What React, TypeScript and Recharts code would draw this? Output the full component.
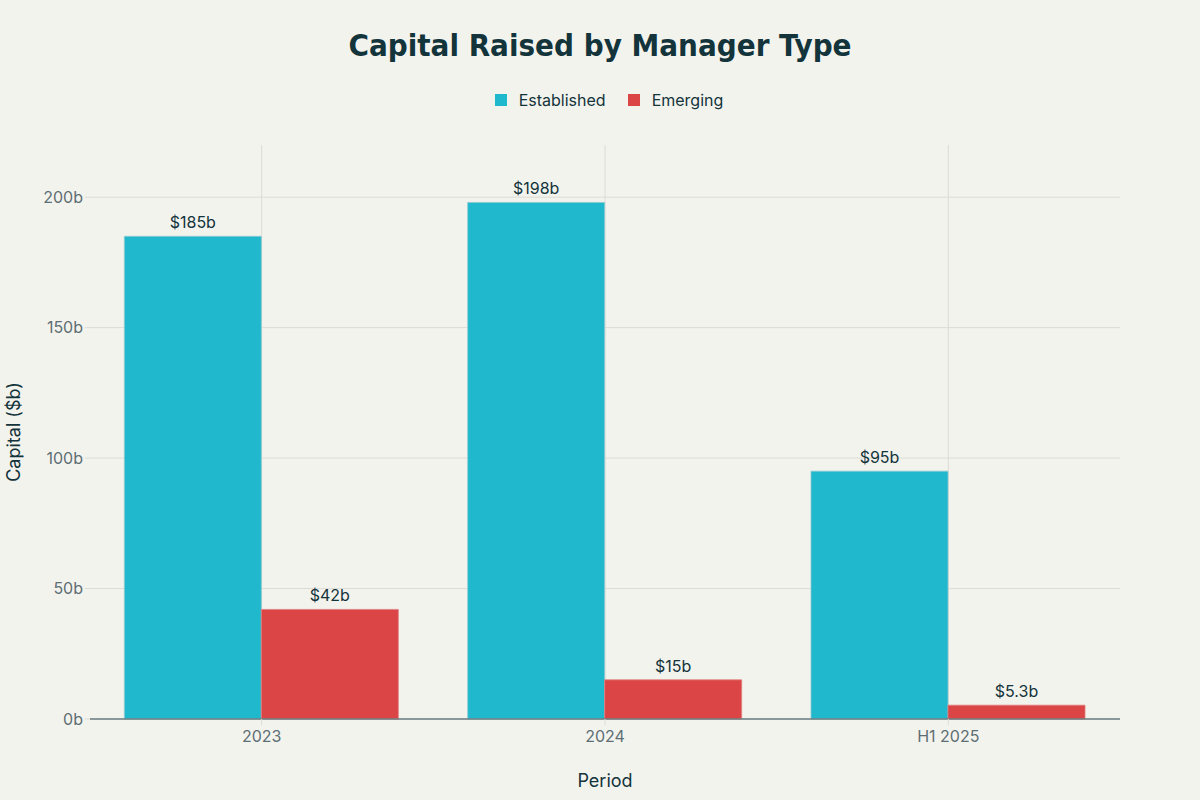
import { BarChart, Bar, XAxis, YAxis, CartesianGrid, Legend, LabelList, Label } from 'recharts';

const periods = ['2023', '2024', 'H1 2025'];
const established = [185, 198, 95];
const emerging = [42, 15, 5.3];
const yTicks = [0, 50, 100, 150, 200];

const COLORS = { established: '#1FB8CD', emerging: '#DB4545' };
const FONT = "Inter, 'Liberation Sans', sans-serif";

const data = periods.map((p, i) => ({
  period: p,
  established: established[i],
  emerging: emerging[i],
}));

const fmt = (v: number) => `$${v}b`;

function LegendBox() {
  const items = [
    { name: 'Established', color: COLORS.established },
    { name: 'Emerging', color: COLORS.emerging },
  ];
  return (
    <div style={{ display: 'flex', justifyContent: 'center', gap: 22, fontFamily: FONT, fontSize: 16, color: '#13343B', height: 20, paddingLeft: 18 }}>
      {items.map((it) => (
        <div key={it.name} style={{ display: 'flex', alignItems: 'center', gap: 12 }}>
          <span style={{ width: 12, height: 12, background: it.color, display: 'inline-block' }} />
          <span>{it.name}</span>
        </div>
      ))}
    </div>
  );
}

export default function App() {
  return (
    <div style={{ position: 'fixed', top: 0, left: 0, width: 1200, height: 800, background: '#F3F3EE' }}>
      <div
        style={{
          position: 'absolute',
          top: 27,
          width: 1200,
          textAlign: 'center',
          fontFamily: "'DejaVu Sans Condensed', 'DejaVu Sans', sans-serif",
          fontWeight: 900,
          fontSize: 31,
          color: '#13343B',
        }}
      >
        Capital Raised by Manager Type
      </div>
      <BarChart
        width={1200}
        height={800}
        data={data}
        margin={{ top: 125, right: 80, bottom: 0, left: 0 }}
        barCategoryGap="10%"
        barGap={0}
      >
        <CartesianGrid stroke="#DCDCD5" strokeWidth={1} syncWithTicks />
        <Legend verticalAlign="top" wrapperStyle={{ top: 90, left: 0, width: 1200 }} content={() => <LegendBox />} />
        <XAxis
          dataKey="period"
          height={81}
          tick={{ fontSize: 16, fill: '#5D6E74', fontFamily: FONT }}
          tickLine={{ stroke: '#DCDCD5' }}
          tickSize={6}
          tickMargin={6}
          axisLine={{ stroke: '#6B7C82', strokeWidth: 1.5 }}
        >
          <Label value="Period" position="insideBottom" offset={13} style={{ fontSize: 18, fill: '#13343B', fontFamily: FONT }} />
        </XAxis>
        <YAxis
          width={90}
          domain={[0, 220]}
          ticks={yTicks}
          tickFormatter={(v) => `${v}b`}
          tick={{ fontSize: 16, fill: '#5D6E74', fontFamily: FONT }}
          tickLine={{ stroke: '#DCDCD5' }}
          tickSize={5}
          axisLine={false}
        >
          <Label
            value="Capital ($b)"
            angle={-90}
            position="insideLeft"
            offset={14}
            style={{ fontSize: 18, fill: '#13343B', fontFamily: FONT, textAnchor: 'middle' }}
          />
        </YAxis>
        <Bar dataKey="established" name="Established" fill={COLORS.established} stroke="#8FC9D0" strokeWidth={0.8} isAnimationActive={false}>
          <LabelList dataKey="established" position="top" offset={8} formatter={fmt} style={{ fontSize: 16, fill: '#13343B', fontFamily: FONT }} />
        </Bar>
        <Bar dataKey="emerging" name="Emerging" fill={COLORS.emerging} stroke="#E07C7C" strokeWidth={0.8} isAnimationActive={false}>
          <LabelList dataKey="emerging" position="top" offset={8} formatter={fmt} style={{ fontSize: 16, fill: '#13343B', fontFamily: FONT }} />
        </Bar>
      </BarChart>
    </div>
  );
}
